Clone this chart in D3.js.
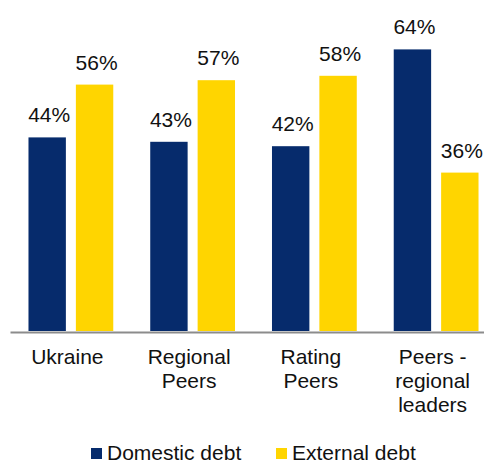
<!DOCTYPE html>
<html>
<head>
<meta charset="utf-8">
<script src="https://cdn.jsdelivr.net/npm/d3@7"></script>
<style>
  html, body { margin: 0; padding: 0; background: #fff; }
  svg { display: block; font-family: "Liberation Sans", Arial, sans-serif; }
</style>
</head>
<body>
<svg id="chart" width="484" height="463"></svg>
<script>
// Debt structure by group (% of total)
const categories = [
  ["Ukraine"],
  ["Regional", "Peers"],
  ["Rating", "Peers"],
  ["Peers -", "regional", "leaders"]
];
const seriesNames = ["Domestic debt", "External debt"];
const domesticDebt = [44, 43, 42, 64];
const externalDebt = [56, 57, 58, 36];
const seriesColors = ["#062B6C", "#FFD500"];

const svg = d3.select("#chart");
const keys = categories.map(c => c.join(" "));
const seriesValues = [domesticDebt, externalDebt];

const x0 = d3.scaleBand().domain(keys).range([10, 497]).padding(0);
const x1 = d3.scaleBand().domain(seriesNames).range([0, x0.bandwidth()])
  .paddingInner(0.211).paddingOuter(0.39);
const y = d3.scaleLinear().domain([0, 70]).range([331, 23]);

const groups = svg.append("g").selectAll("g")
  .data(keys)
  .join("g")
  .attr("transform", d => `translate(${x0(d)},0)`);

groups.each(function (k, i) {
  const g = d3.select(this);
  seriesNames.forEach((s, j) => {
    const v = seriesValues[j][i];
    g.append("rect")
      .attr("x", x1(s))
      .attr("y", y(v))
      .attr("width", x1.bandwidth())
      .attr("height", y(0) - y(v))
      .attr("fill", seriesColors[j]);
    g.append("text")
      .attr("x", x1(s) + x1.bandwidth() / 2 + 2)
      .attr("y", y(v) - 15)
      .attr("text-anchor", "middle")
      .attr("font-size", 21)
      .attr("fill", "#111")
      .text(v + "%");
  });
});

// baseline axis
const xAxis = d3.axisBottom(x0).tickSize(0).tickFormat("");
const axisG = svg.append("g").attr("transform", `translate(0,${y(0) + 1})`).call(xAxis);
axisG.select(".domain").attr("stroke", "#8c8c8c").attr("stroke-width", 2);

// multi-line category labels
const labels = svg.append("g");
categories.forEach((lines, i) => {
  const cx = x0(keys[i]) + x0.bandwidth() / 2 - 3.5;
  const t = labels.append("text")
    .attr("x", cx)
    .attr("y", 364)
    .attr("text-anchor", "middle")
    .attr("font-size", 21)
    .attr("fill", "#111");
  lines.forEach((ln, k) => {
    t.append("tspan")
      .attr("x", cx)
      .attr("dy", k === 0 ? 0 : 24)
      .text(ln);
  });
});

// legend
const legendX = [91, 276];
const legend = svg.append("g");
seriesNames.forEach((s, j) => {
  legend.append("rect")
    .attr("x", legendX[j]).attr("y", 448)
    .attr("width", 11).attr("height", 11)
    .attr("fill", seriesColors[j]);
  legend.append("text")
    .attr("x", legendX[j] + 16).attr("y", 459.5)
    .attr("font-size", 21)
    .attr("fill", "#111")
    .text(s);
});
</script>
</body>
</html>
